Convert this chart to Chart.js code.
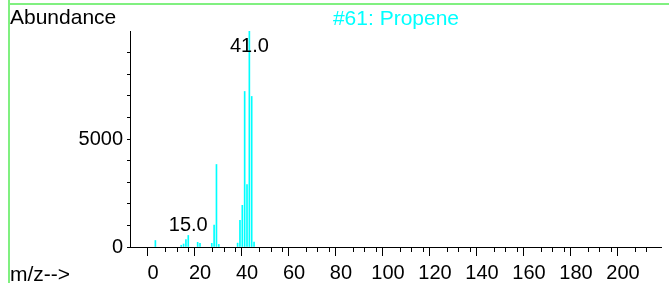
<!DOCTYPE html>
<html>
<head>
<meta charset="utf-8">
<title>#61: Propene</title>
<script src="https://cdn.jsdelivr.net/npm/chart.js@4.4.1/dist/chart.umd.min.js"></script>
<style>
    html, body { margin: 0; padding: 0; background: #fff; }
    #wrap { position: relative; width: 669px; height: 283px; overflow: hidden; }
    #spectrum { position: absolute; left: 0; top: 0; }
    .frame-top { position: absolute; left: 8px; top: 3px; width: 661px; height: 2px; background: #80f080; }
    .frame-left { position: absolute; left: 8px; top: 0; width: 2px; height: 283px; background: #80f080; }
    .txt { position: absolute; font: 21px "Liberation Sans", Arial, sans-serif; line-height: 21px; white-space: nowrap; color: #000; }
    #ylabel { left: 10px; top: 6px; }
    #xlabel { left: 10px; top: 263px; }
    #title { left: 396px; top: 7px; transform: translateX(-50%); color: #00ffff; }
</style>
</head>
<body>
<div id="wrap">
    <canvas id="spectrum" width="669" height="283"></canvas>
    <div class="frame-top"></div>
    <div class="frame-left"></div>
    <div class="txt" id="ylabel">Abundance</div>
    <div class="txt" id="title">#61: Propene</div>
    <div class="txt" id="xlabel">m/z--&gt;</div>
</div>
<script>
// Spectrum peaks
const MZ = [1, 12, 13, 14, 15, 19, 20, 25, 26, 27, 28, 36, 37, 38, 39, 40, 41, 42, 43];
const ABUNDANCE = [300, 80, 140, 340, 535, 215, 170, 170, 1020, 3820, 120, 180, 1240, 1930, 7200, 2890, 9999, 6970, 230];

// peaks that carry a m/z label
const LABELLED_PEAKS = [15, 41];

// axis setup
const X_MIN = -9.8;
const X_MAX = 216.2;
const Y_MAX = 10000;
const X_LABEL_STEP = 20;
const X_MINOR_STEP = 5;
const Y_MINOR_STEP = 1000;
const Y_LABELS = [0, 5000];

const FONT = { family: '"Liberation Sans", Arial, sans-serif', size: 20 };
const PEAK_COLOR = '#00ffff';

// short ticks every 5 m/z, longer ones every 20 are drawn by the axis itself
const minorTicks = {
    id: 'minorTicks',
    afterDraw(chart) {
        const sx = chart.scales.x;
        const ctx = chart.ctx;
        ctx.save();
        ctx.strokeStyle = '#000';
        ctx.lineWidth = 1;
        ctx.beginPath();
        sx.ticks.forEach(t => {
            if (t.value % X_LABEL_STEP === 0) return;
            const px = Math.round(sx.getPixelForValue(t.value)) + 0.5;
            ctx.moveTo(px, sx.top);
            ctx.lineTo(px, sx.top + 5);
        });
        ctx.stroke();
        ctx.restore();
    }
};

// "15.0" / "41.0" above the peaks
const peakLabels = {
    id: 'peakLabels',
    afterDatasetsDraw(chart) {
        const meta = chart.getDatasetMeta(0);
        const ctx = chart.ctx;
        ctx.save();
        ctx.font = `${FONT.size}px ${FONT.family}`;
        ctx.fillStyle = '#000';
        ctx.textAlign = 'center';
        ctx.textBaseline = 'alphabetic';
        LABELLED_PEAKS.forEach(mz => {
            const idx = MZ.indexOf(mz);
            const el = meta.data[idx];
            const y = Math.max(el.y - 4, chart.chartArea.top + 21);
            ctx.fillText(mz.toFixed(1), el.x, y);
        });
        ctx.restore();
    }
};

const ctx = document.getElementById('spectrum').getContext('2d');
new Chart(ctx, {
    type: 'bar',
    data: {
        datasets: [{
            data: MZ.map((m, i) => ({ x: m, y: ABUNDANCE[i] })),
            backgroundColor: PEAK_COLOR,
            borderWidth: 0,
            barThickness: 1
        }]
    },
    options: {
        responsive: false,
        animation: false,
        events: [],
        layout: { padding: { top: 31, right: 8, left: 0, bottom: 0 } },
        plugins: {
            legend: { display: false },
            tooltip: { enabled: false }
        },
        scales: {
            x: {
                type: 'linear',
                min: X_MIN,
                max: X_MAX,
                offset: false,
                afterBuildTicks: scale => {
                    scale.ticks = scale.ticks.filter(t => Math.abs(t.value % X_MINOR_STEP) < 1e-9);
                },
                afterFit: scale => { scale.height = 36; },
                border: { display: true, color: '#000', width: 1 },
                grid: {
                    drawOnChartArea: false,
                    drawTicks: true,
                    tickLength: 9,
                    tickColor: c => (c.tick && c.tick.value % X_LABEL_STEP === 0) ? '#000' : 'rgba(0,0,0,0)'
                },
                ticks: {
                    stepSize: X_MINOR_STEP,
                    maxTicksLimit: 60,
                    autoSkip: false,
                    maxRotation: 0,
                    padding: 5,
                    color: '#000',
                    font: FONT,
                    callback: v => (v % X_LABEL_STEP === 0 && v >= 0 && v <= 200) ? String(v) : ''
                }
            },
            y: {
                min: 0,
                max: Y_MAX,
                afterBuildTicks: scale => {
                    scale.ticks = scale.ticks.filter(t => t.value % Y_MINOR_STEP === 0 && t.value < Y_MAX);
                },
                afterFit: scale => { scale.width = 130; },
                border: { display: true, color: '#000', width: 1 },
                grid: {
                    drawOnChartArea: false,
                    drawTicks: true,
                    tickLength: 3,
                    tickColor: '#000'
                },
                ticks: {
                    stepSize: Y_MINOR_STEP,
                    maxTicksLimit: 20,
                    autoSkip: false,
                    padding: 4,
                    color: '#000',
                    font: FONT,
                    callback: v => Y_LABELS.includes(v) ? String(v) : ''
                }
            }
        }
    },
    plugins: [minorTicks, peakLabels]
});
</script>
</body>
</html>
